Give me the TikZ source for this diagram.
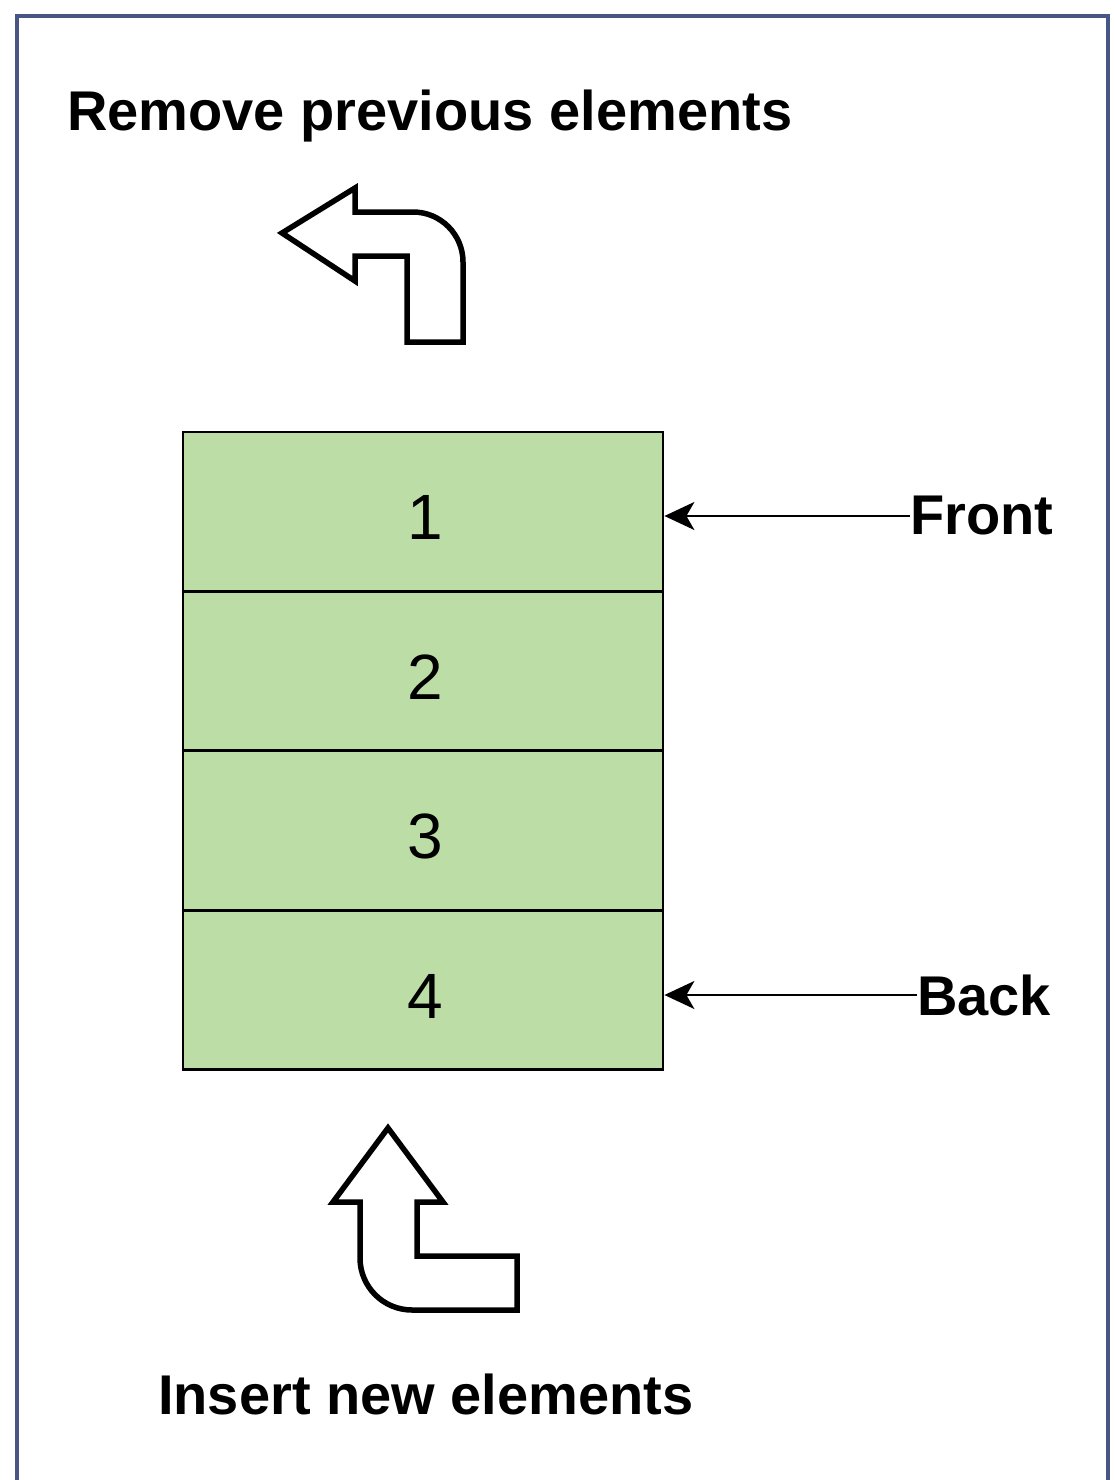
\documentclass[tikz,border=0pt]{standalone}
\usepackage{fontspec}
\setmainfont{Liberation Sans}
\usetikzlibrary{arrows.meta}
\definecolor{framec}{RGB}{72,86,132}
\definecolor{cellg}{RGB}{188,222,166}
\tikzset{
  cellbox/.style={draw=black, line width=2.8pt, fill=cellg, minimum width=480pt, minimum height=159pt, inner sep=0pt},
  numtxt/.style={font=\fontsize{64}{64}\selectfont, inner sep=0pt},
  lbl/.style={font=\bfseries\fontsize{56}{56}\selectfont, inner sep=0pt},
  conn/.style={draw=black, line width=2pt, -{Stealth[length=30pt,width=28pt,inset=8pt]}},
  bigarrow/.style={draw=black, line width=5.5pt, fill=white, line join=miter}
}
\begin{document}
\begin{tikzpicture}[x=1pt,y=-1pt]
\useasboundingbox (0,0) rectangle (1115,1480);
\draw[framec, line width=4pt] (17,1482) -- (17,16) -- (1108,16) -- (1108,1482);

\node[lbl, anchor=west] (title) at (67,116) {Remove previous elements};
\node[lbl, anchor=west] (insert) at (158,1394) {Insert new elements};

\node[cellbox] (c1) at (423,511.5) {};
\node[cellbox] (c2) at (423,671) {};
\node[cellbox] (c3) at (423,830.5) {};
\node[cellbox] (c4) at (423,990) {};
\node[numtxt] (n1) at (425,517) {1};
\node[numtxt] (n2) at (425,677) {2};
\node[numtxt] (n3) at (425,836) {3};
\node[numtxt] (n4) at (425,996) {4};

\node[lbl, anchor=west] (front) at (910,516) {Front};
\node[lbl, anchor=west] (back) at (917,995) {Back};

\draw[conn] (front.west) -- (c1.east |- front.west);
\draw[conn] (back.west) -- (c4.east |- back.west);

% top bent arrow (remove)
\draw[bigarrow] (282,233) -- (355,188) -- (355,212) -- (413,212)
  arc[start angle=-90, end angle=0, radius=50] -- (463,342) -- (407,342)
  -- (407,256) -- (355,256) -- (355,281) -- cycle;

% bottom bent arrow (insert)
\draw[bigarrow] (388,1128) -- (443,1202) -- (417,1202) -- (417,1256)
  -- (517,1256) -- (517,1310) -- (412,1310)
  arc[start angle=90, end angle=180, radius=52] -- (360,1202) -- (333,1202) -- cycle;
\end{tikzpicture}
\end{document}
